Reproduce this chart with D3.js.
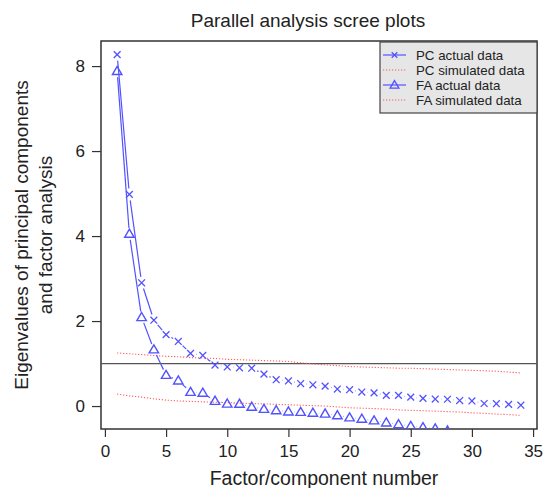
<!DOCTYPE html>
<html>
<head>
<meta charset="utf-8">
<script src="https://cdn.jsdelivr.net/npm/d3@7"></script>
<style>
  body { margin: 0; background: #fff; }
  svg { display: block; font-family: "Liberation Sans", Arial, Helvetica, sans-serif; }
</style>
</head>
<body>
<svg id="chart" width="549" height="488"></svg>
<script>
// ---- data ----
const factorNumbers = d3.range(1, 35);
const pcActual = [8.27, 4.98, 2.90, 2.02, 1.68, 1.52, 1.24, 1.19, 0.965, 0.92, 0.90, 0.89,
  0.75, 0.62, 0.59, 0.53, 0.50, 0.47, 0.40, 0.385, 0.33, 0.31, 0.25, 0.25, 0.21, 0.18,
  0.165, 0.16, 0.13, 0.12, 0.06, 0.055, 0.04, 0.02];
const pcSimulated = [1.25, 1.23, 1.21, 1.19, 1.17, 1.16, 1.14, 1.13, 1.12, 1.10, 1.09, 1.08,
  1.07, 1.06, 1.05, 1.02, 0.99, 0.97, 0.95, 0.93, 0.92, 0.91, 0.90, 0.89, 0.89, 0.88,
  0.87, 0.86, 0.85, 0.84, 0.83, 0.82, 0.80, 0.78];
const faActual = [7.88, 4.05, 2.09, 1.33, 0.73, 0.60, 0.33, 0.31, 0.12, 0.055, 0.05, -0.02,
  -0.07, -0.10, -0.13, -0.14, -0.16, -0.18, -0.22, -0.27, -0.30, -0.34, -0.39, -0.43,
  -0.47, -0.50, -0.53, -0.58, -0.68, -0.72, -0.76, -0.80, -0.84, -0.88];
const faSimulated = [0.28, 0.24, 0.21, 0.17, 0.14, 0.12, 0.11, 0.10, 0.09, 0.08, 0.07, 0.06,
  0.05, 0.04, 0.03, 0.02, 0.01, 0.00, -0.02, -0.04, -0.05, -0.06, -0.07, -0.09, -0.10,
  -0.11, -0.12, -0.13, -0.14, -0.16, -0.17, -0.19, -0.20, -0.22];
const xTicks = [0, 5, 10, 15, 20, 25, 30, 35];
const yTicks = [0, 2, 4, 6, 8];
const referenceLine = 1;
const legendLabels = ["PC actual data", "PC simulated data", "FA actual data", "FA simulated data"];
const titleText = "Parallel analysis scree plots";
const xLabel = "Factor/component number";
const yLabelLines = ["Eigenvalues of principal components", "and factor analysis"];

// ---- layout ----
const svg = d3.select("#chart");
const L = 101, R = 537, T = 41, B = 429;
const blue = "#5252ff", red = "#ff5a5a", ink = "#222";

const x = d3.scaleLinear().domain([-0.32, 35.32]).range([L, R]);
const y = d3.scaleLinear().domain([-0.54, 8.59]).range([B, T]);

svg.append("defs").append("clipPath").attr("id", "clip")
  .append("rect").attr("x", L).attr("y", T).attr("width", R - L).attr("height", B - T);

// axes
const xAxis = svg.append("g").attr("transform", `translate(0,${B})`)
  .call(d3.axisBottom(x).tickValues(xTicks).tickSize(8).tickPadding(8));
const yAxis = svg.append("g").attr("transform", `translate(${L},0)`)
  .call(d3.axisLeft(y).tickValues(yTicks).tickSize(9).tickPadding(7));
[xAxis, yAxis].forEach(g => {
  g.select(".domain").remove();
  g.selectAll(".tick line").attr("stroke", "#333").attr("stroke-width", 1.2);
  g.selectAll(".tick text").attr("fill", ink).attr("font-size", 17)
    .style("font-family", "'Liberation Sans', Arial, sans-serif");
});

// box
svg.append("rect").attr("x", L).attr("y", T).attr("width", R - L).attr("height", B - T)
  .attr("fill", "none").attr("stroke", "#333").attr("stroke-width", 1.5);

const plot = svg.append("g").attr("clip-path", "url(#clip)");

// reference line
plot.append("line").attr("x1", L).attr("x2", R)
  .attr("y1", y(referenceLine)).attr("y2", y(referenceLine))
  .attr("stroke", "#555").attr("stroke-width", 1.3);

// simulated (dotted)
const lineGen = d3.line().x((d, i) => x(factorNumbers[i])).y(d => y(d));
[pcSimulated, faSimulated].forEach(s => {
  plot.append("path").datum(s).attr("d", lineGen)
    .attr("fill", "none").attr("stroke", red).attr("stroke-width", 1.1)
    .attr("stroke-dasharray", "1.2,1.8");
});

// actual data, "type b": segments with gaps around points
const gap = 6;
function drawTypeB(vals) {
  const pts = vals.map((v, i) => [x(factorNumbers[i]), y(v)]);
  const segs = [];
  for (let i = 0; i < pts.length - 1; i++) {
    const [x0, y0] = pts[i], [x1, y1] = pts[i + 1];
    const len = Math.hypot(x1 - x0, y1 - y0);
    if (len > 2 * gap) {
      const ux = (x1 - x0) / len, uy = (y1 - y0) / len;
      segs.push([x0 + ux * gap, y0 + uy * gap, x1 - ux * gap, y1 - uy * gap]);
    }
  }
  plot.selectAll(null).data(segs).enter().append("line")
    .attr("x1", d => d[0]).attr("y1", d => d[1]).attr("x2", d => d[2]).attr("y2", d => d[3])
    .attr("stroke", blue).attr("stroke-width", 1.2);
  return pts;
}
const crossPath = s => `M${-s},${-s}L${s},${s}M${-s},${s}L${s},${-s}`;
const triPath = s => `M0,${-s * 1.05}L${s * 1.05},${s * 0.75}L${-s * 1.05},${s * 0.75}Z`;

const pcPts = drawTypeB(pcActual);
plot.selectAll(null).data(pcPts).enter().append("path")
  .attr("transform", d => `translate(${d[0]},${d[1]})`)
  .attr("d", crossPath(3.4)).attr("fill", "none").attr("stroke", blue).attr("stroke-width", 1.3);

const faPts = drawTypeB(faActual);
plot.selectAll(null).data(faPts).enter().append("path")
  .attr("transform", d => `translate(${d[0]},${d[1]})`)
  .attr("d", triPath(4.5)).attr("fill", "none").attr("stroke", blue).attr("stroke-width", 1.4);

// legend
const lg = svg.append("g");
lg.append("rect").attr("x", 380).attr("y", 42).attr("width", R - 380).attr("height", 71)
  .attr("fill", "#e6e6e6").attr("stroke", "#444").attr("stroke-width", 1.2);
const rowY = [55, 70, 85, 100];
legendLabels.forEach((lab, i) => {
  const cy = rowY[i];
  const isActual = i % 2 === 0;
  const ln = lg.append("line").attr("x1", 383).attr("x2", 406).attr("y1", cy).attr("y2", cy);
  if (isActual) {
    ln.attr("stroke", blue).attr("stroke-width", 1.2);
    lg.append("path").attr("transform", `translate(394.5,${cy})`)
      .attr("d", i === 0 ? crossPath(2.8) : triPath(4.2))
      .attr("fill", "none").attr("stroke", blue).attr("stroke-width", 1.3);
  } else {
    ln.attr("stroke", red).attr("stroke-width", 1.1).attr("stroke-dasharray", "1.2,1.8");
  }
  lg.append("text").attr("x", 416).attr("y", cy + 4.6).attr("font-size", 13.3)
    .attr("fill", ink).text(lab);
});

// titles
svg.append("text").attr("x", 308).attr("y", 27).attr("text-anchor", "middle")
  .attr("font-size", 19).attr("fill", ink).text(titleText);
svg.append("text").attr("x", (L + R) / 2 + 5).attr("y", 485).attr("text-anchor", "middle")
  .attr("font-size", 19.5).attr("fill", ink).text(xLabel);
yLabelLines.forEach((t, i) => {
  svg.append("text")
    .attr("transform", `translate(${28 + i * 24},${(T + B) / 2}) rotate(-90)`)
    .attr("text-anchor", "middle").attr("font-size", 19).attr("fill", ink).text(t);
});
</script>
</body>
</html>
